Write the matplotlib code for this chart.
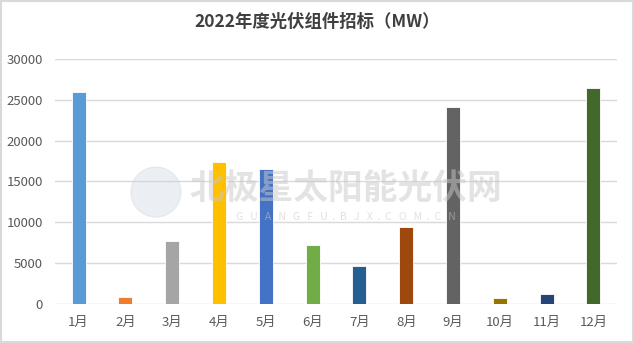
import matplotlib.pyplot as plt
from matplotlib.patches import Rectangle, Ellipse

plt.rcParams['font.family'] = ['Noto Sans CJK SC', 'DejaVu Sans']

months = ['1月', '2月', '3月', '4月', '5月', '6月', '7月', '8月', '9月', '10月', '11月', '12月']
bids = [26000, 900, 7700, 17400, 16500, 7200, 4650, 9450, 24100, 700, 1200, 26500]
colors = ['#5B9BD5', '#ED7D31', '#A5A5A5', '#FFC000', '#4472C4', '#70AD47',
          '#255E91', '#9E480E', '#636363', '#997300', '#264478', '#43682B']

fig = plt.figure(figsize=(6.34, 3.43), dpi=100)
ax = fig.add_axes([0.087, 0.114, 0.886, 0.714])

x = range(len(months))
ax.bar(x, bids, width=0.3, color=colors, edgecolor='white', linewidth=0.6, zorder=3)

ax.set_xlim(-0.5, len(months) - 0.5)
ax.set_ylim(0, 30000)
ax.set_yticks(range(0, 30001, 5000))
ax.set_xticks(list(x))
ax.set_xticklabels(months)
ax.grid(axis='y', color='#D9D9D9', linewidth=1, zorder=0)
for s in ax.spines.values():
    s.set_visible(False)
ax.tick_params(length=0, labelsize=9.5, colors='#595959', pad=9)

fig.text(0.5, 0.935, '2022年度光伏组件招标（MW）', ha='center', va='center',
         fontsize=12.5, fontweight='bold', color='#404040')

# 水印
fig.text(0.545, 0.45, '北极星太阳能光伏网', ha='center', va='center', fontsize=25,
         fontweight='bold', style='italic', color='#C8C8C8', alpha=0.5, zorder=5)
fig.text(0.545, 0.367, 'G   U   A   N   G   F   U  .  B   J   X  .  C   O   M  .  C   N',
         ha='center', va='center', fontsize=7.5, color='#C8C8C8', alpha=0.55, zorder=5)
fig.patches.append(Ellipse((0.246, 0.44), 0.079, 0.146, transform=fig.transFigure,
                           color='#C8D3E0', alpha=0.35, zorder=5))

fig.patches.append(Rectangle((0.002, 0.003), 0.996, 0.994, transform=fig.transFigure,
                             fill=False, edgecolor='#D9D9D9', linewidth=1.5))

plt.savefig('out.png', dpi=100)
